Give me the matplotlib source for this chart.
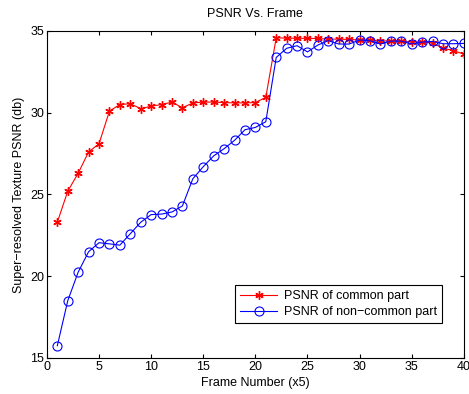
import matplotlib
matplotlib.use("Agg")
import matplotlib.pyplot as plt
import numpy as np

plt.rcParams['font.family'] = ['Liberation Sans', 'DejaVu Sans']

frames = list(range(1, 41))
psnr_common = [23.3, 25.2, 26.3, 27.6, 28.1, 30.1, 30.5, 30.55, 30.25, 30.4,
               30.5, 30.65, 30.3, 30.6, 30.65, 30.65, 30.62, 30.6, 30.6, 30.62,
               30.94, 34.58, 34.56, 34.55, 34.55, 34.54, 34.5, 34.5, 34.48, 34.45,
               34.42, 34.4, 34.38, 34.38, 34.33, 34.32, 34.26, 33.95, 33.8, 33.58]
psnr_noncommon = [15.75, 18.5, 20.25, 21.5, 22.05, 21.98, 21.9, 22.6, 23.3, 23.77,
                  23.8, 23.93, 24.3, 25.96, 26.7, 27.36, 27.8, 28.31, 28.96, 29.1,
                  29.45, 33.38, 33.94, 34.1, 33.72, 34.14, 34.41, 34.2, 34.2, 34.45,
                  34.4, 34.2, 34.38, 34.38, 34.2, 34.32, 34.36, 34.22, 34.22, 34.24]

fig = plt.figure(figsize=(4.69, 3.94), dpi=100)
ax = fig.add_axes([0.100, 0.0914, 0.889, 0.830])

ax.plot(frames, psnr_common, color='red', marker=(6, 2, 0), markersize=6,
        markeredgewidth=1.0, linewidth=0.8, label='PSNR of common part')
ax.plot(frames, psnr_noncommon, color='blue', marker='o', markersize=6.5,
        markerfacecolor='none', markeredgewidth=0.8, linewidth=0.8,
        label='PSNR of non\u2212common part')

ax.set_xlim(0, 40)
ax.set_ylim(15, 35)
ax.set_xticks(range(0, 41, 5))
ax.set_yticks(range(15, 36, 5))
ax.tick_params(direction='in', labelsize=9, length=3, top=True, right=True, pad=2)
for s in ax.spines.values():
    s.set_linewidth(0.8)

ax.set_title('PSNR Vs. Frame', fontsize=9, pad=10)
ax.set_xlabel('Frame Number (x5)', fontsize=9, labelpad=3)
ax.set_ylabel('Super\u2212resolved Texture PSNR (db)', fontsize=9, labelpad=4)

leg = ax.legend(loc='lower right', bbox_to_anchor=(0.947, 0.107),
                borderaxespad=0, fontsize=9, fancybox=False, edgecolor='black',
                framealpha=1, handlelength=3, borderpad=0.4, labelspacing=0.3,
                handletextpad=0.5)
leg.get_frame().set_linewidth(0.8)

fig.savefig('out.png', dpi=100)
